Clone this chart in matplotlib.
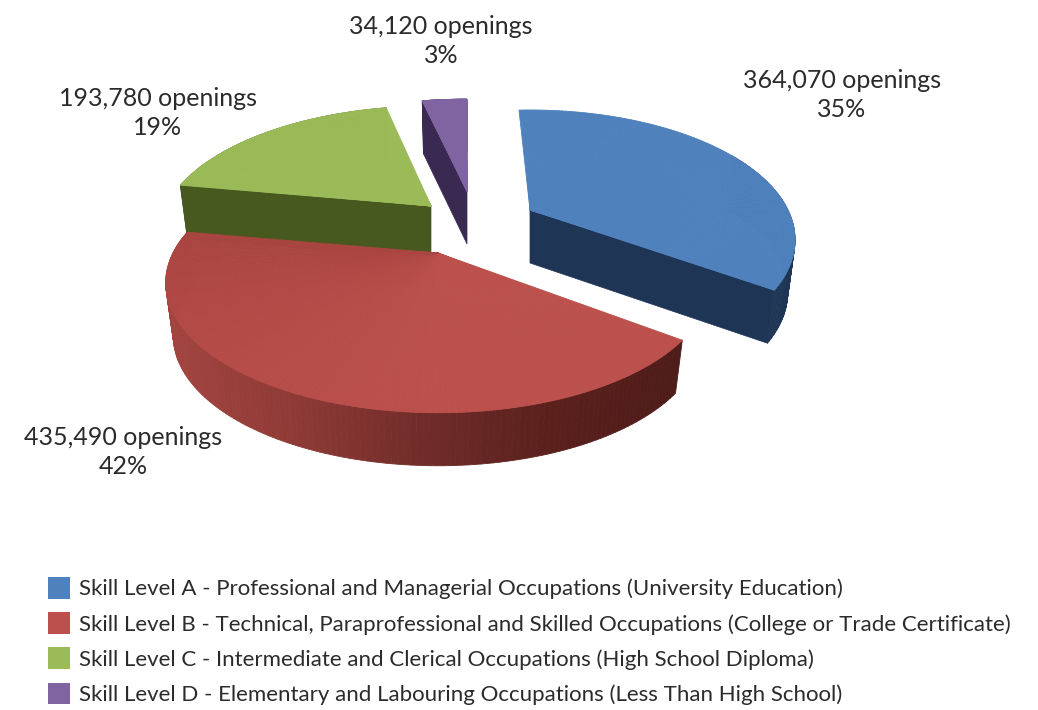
import numpy as np
import matplotlib
matplotlib.use("Agg")
import matplotlib.pyplot as plt
from matplotlib.collections import PolyCollection
from matplotlib.colors import LinearSegmentedColormap
from matplotlib.patches import Patch, Polygon

# Data
skill_levels = [
    "Skill Level A - Professional and Managerial Occupations (University Education)",
    "Skill Level B - Technical, Paraprofessional and Skilled Occupations (College or Trade Certificate)",
    "Skill Level C - Intermediate and Clerical Occupations (High School Diploma)",
    "Skill Level D - Elementary and Labouring Occupations (Less Than High School)",
]
openings = [364070, 435490, 193780, 34120]
percent_labels = ["35%", "42%", "19%", "3%"]

# Slice styling
top_colors = ["#4F81BD", "#BC504C", "#9BBB59", "#8064A2"]
wall_colors = ["#1F3555", "#5A201C", "#47591F", "#3A2A52"]
apexes = [(530, 210), (438, 253), (431, 206), (467, 191)]
turns = [-3, 0, 0, 0]
radii_x = [258, 265, 265, 265]
radii_y = [123, 123, 123, 113]
label_centers = [(842, 95), (123, 452), (158, 113), (441, 41)]

PERSPECTIVE = 0.23
DEPTH = 53
TEXT_COLOR = "#2B2A2C"
plt.rcParams["font.family"] = ["Lato", "DejaVu Sans"]

fig = plt.figure(figsize=(10.38, 7.10), dpi=100)
ax = fig.add_axes([0, 0, 1, 1])
ax.set_xlim(0, 1038)
ax.set_ylim(710, 0)
ax.axis("off")


def project(k, clock_deg, depth=0.0):
    """Perspective projection of a rim point of slice k, angle clockwise from 12 o'clock."""
    t = np.radians(90 - np.asarray(clock_deg, dtype=float))
    f = 1 / (1 + PERSPECTIVE * np.sin(t))
    shrink = 1 - 0.028 * depth / DEPTH
    return (apexes[k][0] + radii_x[k] * np.cos(t) * f * shrink,
            apexes[k][1] - radii_y[k] * np.sin(t) * f + depth)


def fan(k, angles):
    xs, ys = project(k, angles)
    return [[apexes[k], (xs[i], ys[i]), (xs[i + 1], ys[i + 1])] for i in range(len(xs) - 1)]


def rim_wall(k, angles):
    xs, ys = project(k, angles)
    xb, yb = project(k, angles, DEPTH)
    return [[(xs[i], ys[i]), (xs[i + 1], ys[i + 1]), (xb[i + 1], yb[i + 1]), (xb[i], yb[i])]
            for i in range(len(xs) - 1)]


def radial_wall(k, angle):
    x, y = project(k, angle)
    xb, yb = project(k, angle, DEPTH)
    return [apexes[k], (x, y), (xb, yb), (apexes[k][0], apexes[k][1] + DEPTH)]


edges = np.concatenate([[0], np.cumsum(openings) / np.sum(openings) * 360])
red_wall_map = LinearSegmentedColormap.from_list(
    "wall", ["#A3443F", "#8E3A36", "#702C29", "#5A201C", "#4E1C19"])
red_top_map = LinearSegmentedColormap.from_list(
    "top", ["#BC504C", "#BC504C", "#B44B47", "#A94541"])

# Painted back to front: purple, green, blue, red
for i in [3, 2, 0, 1]:
    start, stop = edges[i] + turns[i], edges[i + 1] + turns[i]
    angles = np.linspace(start, stop, 140)

    if i == 1:
        walls = rim_wall(i, angles)
        mid = np.array([np.mean([p[0] for p in w]) for w in walls])
        values = (mid - mid.min()) / (mid.max() - mid.min())
        ax.add_collection(PolyCollection(walls, array=values, cmap=red_wall_map,
                                         edgecolors="face", linewidths=0.6))
    elif i == 0:
        # The far rim of this slice stays hidden behind its own top face
        ax.add_collection(PolyCollection(rim_wall(i, angles[angles > 60]), facecolors=wall_colors[i],
                                         edgecolors=wall_colors[i], linewidths=0.5))
    else:
        ax.add_collection(PolyCollection(rim_wall(i, angles), facecolors=wall_colors[i],
                                         edgecolors=wall_colors[i], linewidths=0.5))

    # Only the radial face turned towards the viewer is drawn
    if i == 0:
        ax.add_patch(Polygon(radial_wall(i, stop), fc=wall_colors[i], ec=wall_colors[i], lw=0.5))
    elif i in (2, 3):
        ax.add_patch(Polygon(radial_wall(i, start), fc=wall_colors[i], ec=wall_colors[i], lw=0.5))

    top = fan(i, angles)
    if i == 1:
        shade = np.clip((angles[:-1] - start) / (stop - start), 0, 1)
        ax.add_collection(PolyCollection(top, array=shade, cmap=red_top_map,
                                         edgecolors="face", linewidths=0.6))
    else:
        ax.add_collection(PolyCollection(top, facecolors=top_colors[i],
                                         edgecolors=top_colors[i], linewidths=0.6))

    cx, cy = label_centers[i]
    ax.text(cx, cy, f"{openings[i]:,} openings\n{percent_labels[i]}", ha="center", va="center",
            fontsize=18, color=TEXT_COLOR, linespacing=1.34)

# Key below the pie
handles = [Patch(facecolor=c, edgecolor="none") for c in top_colors]
LEGEND_PT = 16.05
font_px = LEGEND_PT * 100 / 72
ax.legend(handles, skill_levels, loc="upper left", bbox_to_anchor=(44 / 1038, 1 - 572.5 / 710),
          frameon=False, fontsize=LEGEND_PT, labelcolor=TEXT_COLOR,
          handlelength=22 / font_px, handleheight=1.12,
          handletextpad=9 / font_px, labelspacing=0.575, borderpad=0.2, borderaxespad=0)

fig.savefig("out.png", dpi=100)
